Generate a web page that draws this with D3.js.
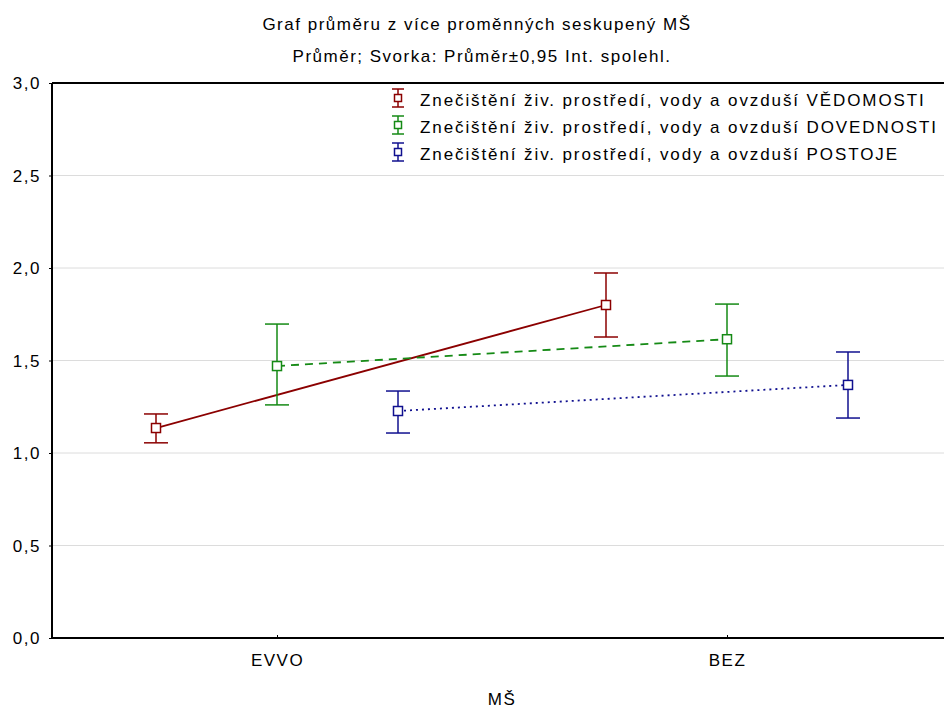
<!DOCTYPE html>
<html>
<head>
<meta charset="utf-8">
<script src="https://cdn.jsdelivr.net/npm/d3@7"></script>
<style>
  body { margin: 0; background: #fff; }
  svg { display: block; }
  text { font-family: "Liberation Sans", Arial, sans-serif; font-size: 17px; letter-spacing: 1.5px; fill: #000; }
</style>
</head>
<body>
<script>
// data
var categories = ['EVVO', 'BEZ'];
var seriesNames = [
  'Znečištění živ. prostředí, vody a ovzduší VĚDOMOSTI',
  'Znečištění živ. prostředí, vody a ovzduší DOVEDNOSTI',
  'Znečištění živ. prostředí, vody a ovzduší POSTOJE'
];
var means = [[1.135, 1.80], [1.47, 1.615], [1.227, 1.368]];
var lower = [[1.055, 1.627], [1.26, 1.416], [1.108, 1.189]];
var upper = [[1.211, 1.973], [1.697, 1.805], [1.335, 1.546]];
var colors = ['#8b0000', '#158a15', '#10108f'];
var dashes = [null, '8,6', '2,4'];
var yTicks = [0, 0.5, 1, 1.5, 2, 2.5, 3];

var width = 944, height = 709;
var plotLeft = 52, plotTop = 83, plotBottom = 638;

var svg = d3.select('body').append('svg')
            .attr('width', width)
            .attr('height', height);

var x = d3.scalePoint().domain(categories).range([277, 727]);
var y = d3.scaleLinear().domain([0, 3]).range([plotBottom, plotTop]);
var offset = 121;

// title
svg.append('text').attr('x', 477).attr('y', 30)
   .attr('text-anchor', 'middle')
   .text('Graf průměru z více proměnných seskupený MŠ');
svg.append('text').attr('x', 482).attr('y', 62)
   .attr('text-anchor', 'middle')
   .text('Průměr; Svorka: Průměr±0,95 Int. spolehl.');

// grid
svg.selectAll('.grid').data(yTicks.slice(1, -1)).enter().append('line')
   .attr('x1', plotLeft).attr('x2', width)
   .attr('y1', function(d) { return y(d); })
   .attr('y2', function(d) { return y(d); })
   .attr('stroke', '#dcdcdc').attr('stroke-width', 1);

// frame: left and top
svg.append('line').attr('x1', plotLeft).attr('x2', plotLeft).attr('y1', plotTop).attr('y2', plotBottom)
   .attr('stroke', '#000').attr('stroke-width', 2);
svg.append('line').attr('x1', plotLeft).attr('x2', width).attr('y1', plotTop).attr('y2', plotTop)
   .attr('stroke', '#000').attr('stroke-width', 2);

// y axis
var yAxis = d3.axisLeft(y).tickValues(yTicks).tickSize(3)
              .tickFormat(function(d) { return d3.format('.1f')(d).replace('.', ','); });
var gy = svg.append('g').attr('transform', 'translate(' + plotLeft + ',0)').call(yAxis);
gy.select('.domain').remove();
gy.attr('font-family', null).attr('font-size', null);
gy.selectAll('text').attr('x', -11).attr('dy', '0.35em');

// x axis
var xAxis = d3.axisBottom(x).tickSize(-3).tickPadding(14);
var gx = svg.append('g').attr('transform', 'translate(0,' + plotBottom + ')').call(xAxis);
gx.select('.domain').remove();
gx.attr('font-family', null).attr('font-size', null);
gx.selectAll('text').attr('dy', null).attr('y', 28);
svg.append('line').attr('x1', plotLeft).attr('x2', width).attr('y1', plotBottom).attr('y2', plotBottom)
   .attr('stroke', '#000').attr('stroke-width', 2);

svg.append('text').attr('x', 502).attr('y', 705)
   .attr('text-anchor', 'middle')
   .text('MŠ');

function px(s, i) { return x(categories[i]) + (s - 1) * offset; }

// series
seriesNames.forEach(function(name, s) {
  var g = svg.append('g');
  var line = d3.line()
               .x(function(d, i) { return px(s, i); })
               .y(function(d) { return y(d); });
  g.append('path').datum(means[s])
   .attr('d', line).attr('fill', 'none')
   .attr('stroke', colors[s]).attr('stroke-width', 1.8)
   .attr('stroke-dasharray', dashes[s]);

  categories.forEach(function(c, i) {
    var cx = px(s, i);
    g.append('line').attr('x1', cx).attr('x2', cx)
     .attr('y1', y(lower[s][i])).attr('y2', y(upper[s][i]))
     .attr('stroke', colors[s]).attr('stroke-width', 1.5);
    [lower[s][i], upper[s][i]].forEach(function(v) {
      g.append('line').attr('x1', cx - 12).attr('x2', cx + 12)
       .attr('y1', y(v)).attr('y2', y(v))
       .attr('stroke', colors[s]).attr('stroke-width', 1.5);
    });
    g.append('rect').attr('x', cx - 4.5).attr('y', y(means[s][i]) - 4.5)
     .attr('width', 9).attr('height', 9)
     .attr('fill', '#fff').attr('stroke', colors[s]).attr('stroke-width', 1.5);
  });

  // legend
  var ly = 98 + s * 27;
  var lg = svg.append('g').attr('transform', 'translate(398,' + ly + ')');
  lg.append('line').attr('x1', 0).attr('x2', 0).attr('y1', -9).attr('y2', 9)
    .attr('stroke', colors[s]).attr('stroke-width', 1.5);
  [-9, 9].forEach(function(v) {
    lg.append('line').attr('x1', -6).attr('x2', 6).attr('y1', v).attr('y2', v)
      .attr('stroke', colors[s]).attr('stroke-width', 1.5);
  });
  lg.append('rect').attr('x', -3.5).attr('y', -3.5).attr('width', 7).attr('height', 7)
    .attr('fill', '#fff').attr('stroke', colors[s]).attr('stroke-width', 1.5);
  lg.append('text').attr('x', 22).attr('y', 8)
    .style('letter-spacing', '1.9px')
    .text(name);
});
</script>
</body>
</html>
